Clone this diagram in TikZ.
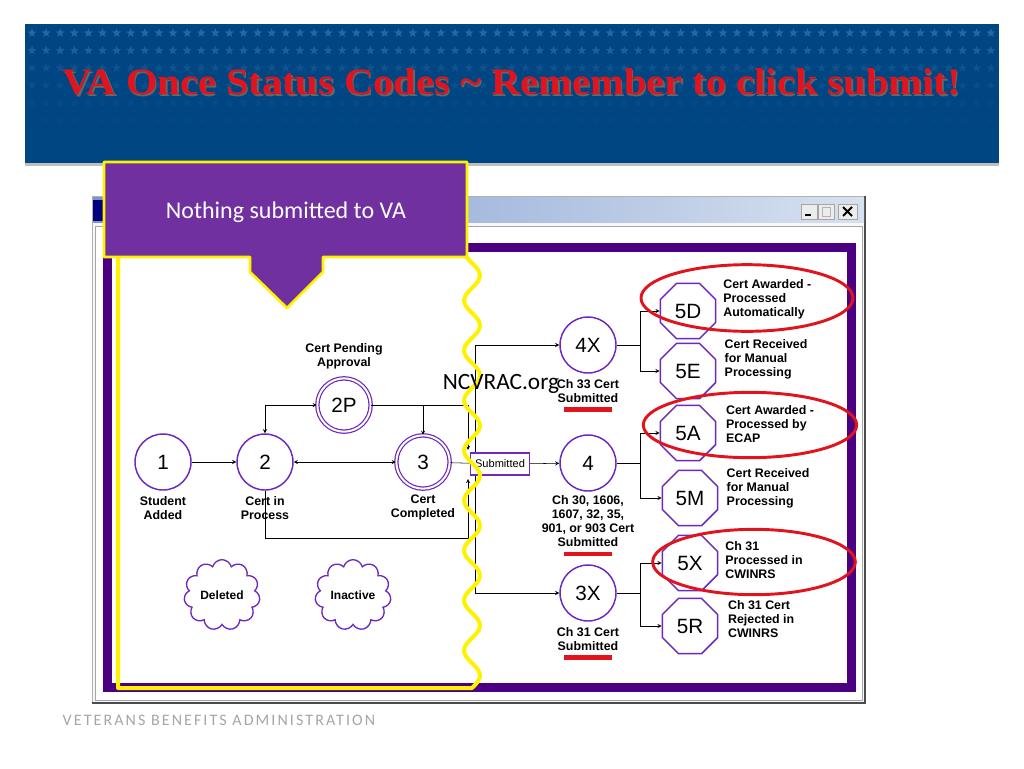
\documentclass[tikz,border=0pt]{standalone}
\usepackage{fontspec}
\setmainfont{Liberation Sans}
\newfontfamily\titlefont{Liberation Serif}
\newfontfamily\calibri{Carlito}
\usetikzlibrary{shapes.geometric,shapes.symbols,positioning}

\definecolor{vablue}{RGB}{0,70,130}
\definecolor{vastar}{RGB}{50,110,170}
\definecolor{notepurple}{RGB}{112,48,160}
\definecolor{statepurple}{RGB}{110,40,190}
\definecolor{framepurple}{RGB}{75,0,130}
\definecolor{hlred}{RGB}{225,20,30}

\begin{document}
\begin{tikzpicture}[x=0.75pt,y=-0.75pt,>=stealth,thin,node distance=76.5pt,
  main node/.style={circle,draw=statepurple,line width=1.1pt,minimum size=42pt,
    inner sep=0pt,font=\fontsize{15.5}{18}\selectfont},
  dbl node/.style={main node,minimum size=40pt,double=white,double distance=1.5pt,
    line width=0.9pt},
  code node/.style={regular polygon,regular polygon sides=8,draw=statepurple,
    line width=1.1pt,minimum size=45pt,inner sep=0pt,font=\fontsize{15.5}{18}\selectfont},
  lbl/.style={align=center,inner sep=1pt,font=\bfseries\fontsize{9.3}{10.5}\selectfont},
  info/.style={anchor=west,align=left,inner sep=1pt,font=\bfseries\fontsize{9.3}{10.5}\selectfont},
  puff/.style={cloud,cloud puffs=11,aspect=1.1,draw=statepurple,line width=1pt,
    minimum width=57pt,minimum height=53pt,inner sep=0pt,
    font=\bfseries\fontsize{9}{10}\selectfont},
  subbox/.style={draw=statepurple,fill=white,line width=0.8pt,minimum width=44pt,
    minimum height=16.5pt,inner sep=1pt,font=\fontsize{8.3}{9}\selectfont},
  hl/.style={ellipse,draw=hlred,line width=2.2pt,inner sep=0pt},
  underbar/.style={hlred,line width=3.5pt},
  hiline/.style={yellow,line width=3pt,line join=round,line cap=round},
  hstar/.style={star,star points=5,star point ratio=2.3,minimum size=7pt,
    inner sep=0pt,fill=vastar}]

  \useasboundingbox (0,0) rectangle (1024,768);
  \fill[white] (0,0) rectangle (1024,768);

  % header band
  \fill[vablue] (25,24) rectangle (999,163);
  \foreach \r/\o in {0/0.8,1/0.6,2/0.3,3/0.2,4/0.12,5/0.07,6/0.04}{
    \foreach \i in {0,...,68}{
      \node[hstar,opacity=\o] (s\r-\i) at ({32+14.1*\i},{33+17.5*\r}) {};
    }
  }
  \fill[gray!50] (25,163) rectangle (999,166);
  \node[anchor=west,text=black!60,font=\titlefont\bfseries\fontsize{28}{32}\selectfont]
    (titleshadow) at (59.5,83.5) {\scalebox{1.085}[1]{VA Once Status Codes \textasciitilde{} Remember to click submit!}};
  \node[anchor=west,text=hlred,font=\titlefont\bfseries\fontsize{28}{32}\selectfont]
    (title) at (58,82) {\scalebox{1.085}[1]{VA Once Status Codes \textasciitilde{} Remember to click submit!}};

  % window
  \draw[gray!60,fill=gray!6] (92,196) rectangle (865,703);
  \draw[black!70,line width=1.2pt] (92,703) -- (865,703) -- (865,196);
  \shade[left color={rgb,255:red,120;green,150;blue,205},right color={rgb,255:red,215;green,225;blue,240}]
    (93,197) rectangle (864,222);
  \fill[blue!50!black] (93,200) rectangle (104,221);
  \draw[gray!70,fill=gray!15] (801,204) rectangle (817,219);
  \draw[gray!70,fill=gray!15] (818,204) rectangle (834,219);
  \draw[gray!70,fill=gray!15] (838,204) rectangle (857,219);
  \draw[line width=1.5pt] (805,215) -- (811,215);
  \draw[gray!60] (822,207) rectangle (830,216);
  \draw[line width=1.4pt] (843,207) -- (852,216) (843,216) -- (852,207);
  \draw[gray!70,fill=white] (95,226) rectangle (862,700);
  \draw[framepurple,fill=white,line width=6.75pt] (107.5,247.5) rectangle (851,687.5);

  % states
  \node[main node] (1) at (163,462) {1};
  \node[main node] (2) [right of=1] {2};
  \node[dbl node] (3) [right of=2,node distance=118.5pt] {3};
  \node[dbl node] (2P) at (344,405) {2P};

  \node[lbl,below=3pt of 1] (l1) {Student\\Added};
  \node[lbl,below=3pt of 2] (l2) {Cert in\\Process};
  \node[lbl,below=3pt of 3] (l3) {Cert\\Completed};
  \node[lbl,above=5pt of 2P] (l2P) {Cert Pending\\Approval};

  \node[puff] (del) at (222,595) {Deleted};
  \node[puff] (inact) at (353,595) {Inactive};

  \coordinate (t1) at (468,450);
  \coordinate (t2) at (468,479);
  \coordinate (lb) at (468,538);
  \coordinate (s1) at (475,345);
  \coordinate (s3) at (475,593);

  \path[->] (1) edge (2);
  \path[<->] (2) edge (3);
  \draw[<->] (2) |- (2P);
  \draw[->] (2P) -| (3);
  \draw[->] (2P) -| (t1);
  \draw[->] (2) |- (lb) -- (t2);

  % submitted branch
  \node[main node] (4X) at (588,345) {4X};
  \node[main node] (4) at (588,463) {4};
  \node[main node] (3X) at (588,593) {3X};

  \draw (s1) -- (s3);
  \node[subbox] (sub) at (500,464) {Submitted};
  \draw (3) -- (sub);
  \path[->] (sub) edge (4)
    (s1) edge (4X)
    (s3) edge (3X);

  \node[lbl,below=3pt of 4X] (l4X) {Ch 33 Cert\\Submitted};
  \node[lbl,below=2pt of 4] (l4) {Ch 30, 1606,\\1607, 32, 35,\\901, or 903 Cert\\Submitted};
  \node[lbl,below=3pt of 3X] (l3X) {Ch 31 Cert\\Submitted};
  \draw[underbar] ([yshift=-4pt]l4X.south) +(-18pt,0) -- +(18pt,0);
  \draw[underbar] ([yshift=-4pt]l4.south) +(-18pt,0) -- +(18pt,0);
  \draw[underbar] ([yshift=-4pt]l3X.south) +(-18pt,0) -- +(18pt,0);

  % results
  \node[code node] (5D) at (688,311) {5D};
  \node[code node] (5E) at (688,371) {5E};
  \node[code node] (5A) at (688,433) {5A};
  \node[code node] (5M) at (690,498) {5M};
  \node[code node] (5X) at (690,563) {5X};
  \node[code node] (5R) at (690,626) {5R};

  \node[info,right=4pt of 5D,yshift=9pt] (i5D) {Cert Awarded -\\Processed\\Automatically};
  \node[info,right=5pt of 5E,yshift=9pt] (i5E) {Cert Received\\for Manual\\Processing};
  \node[info,right=6pt of 5A,yshift=7pt] (i5A) {Cert Awarded -\\Processed by\\ECAP};
  \node[info,right=5pt of 5M,yshift=7pt] (i5M) {Cert Received\\for Manual\\Processing};
  \node[info,right=4pt of 5X,yshift=2pt] (i5X) {Ch 31\\Processed in\\CWINRS};
  \node[info,right=6pt of 5R,yshift=5pt] (i5R) {Ch 31 Cert\\Rejected in\\CWINRS};

  \coordinate (b1) at (640,345);
  \coordinate (b2) at (640,463);
  \coordinate (b3) at (640,593);
  \draw (4X) -- (b1);
  \draw (4) -- (b2);
  \draw (3X) -- (b3);
  \draw[->] (b1) |- (5D);
  \draw[->] (b1) |- (5E);
  \draw[->] (b2) |- (5A);
  \draw[->] (b2) |- (5M);
  \draw[->] (b3) |- (5X);
  \draw[->] (b3) |- (5R);

  % highlight of the first column
  \draw[hiline] (118,257) -- (118,688) -- plot[smooth,samples=120,domain=688:257]
    ({472+8*sin(7.2*(688-\x))},\x);
  \draw[fill=notepurple,draw=yellow,line width=2pt,line join=round]
    (104,162) -- (467,162) -- (467,257) -- (323,257) -- (323,272) -- (287,308)
    -- (250,272) -- (250,257) -- (104,257) -- cycle;
  \node[text=white,font=\calibri\fontsize{18}{22}\selectfont] (note) at (286,212)
    {Nothing submitted to VA};

  \node[font=\calibri\fontsize{17.5}{20}\selectfont] (site) at (501,384) {NCVRAC.org};

  \node[hl,minimum width=159pt,minimum height=50pt] (h5D) at (747,298) {};
  \node[hl,minimum width=160pt,minimum height=49pt] (h5A) at (750,425) {};
  \node[hl,minimum width=152pt,minimum height=49pt] (h5X) at (754,562) {};

  \node[anchor=west,text=gray!70,font=\calibri\fontsize{12}{14}\selectfont] (footer)
    at (58,720) {\addfontfeature{LetterSpace=13}VETERANS BENEFITS ADMINISTRATION};
\end{tikzpicture}
\end{document}
